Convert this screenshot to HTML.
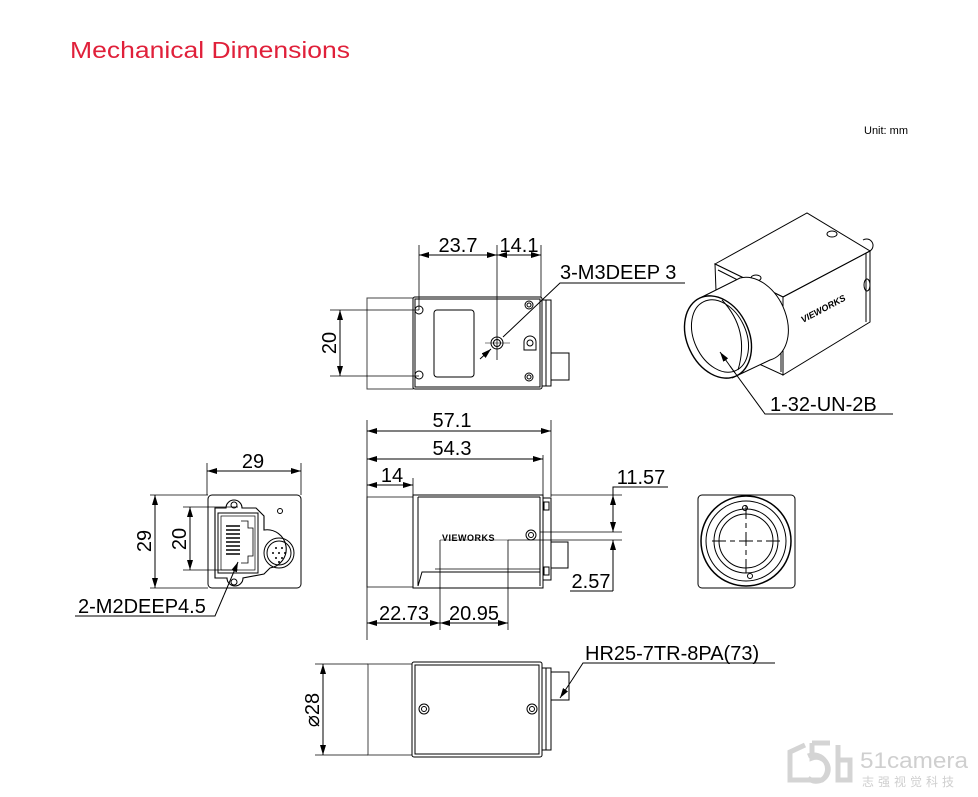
<!DOCTYPE html>
<html><head><meta charset="utf-8">
<style>
html,body{margin:0;padding:0;background:#fff;}
svg{display:block;}
text{font-family:"Liberation Sans","DejaVu Sans",sans-serif;fill:#000;}
</style></head>
<body>
<svg width="978" height="797" viewBox="0 0 978 797" xmlns="http://www.w3.org/2000/svg">
<defs>
<marker id="a" viewBox="0 0 10 6" refX="10" refY="3" markerWidth="10" markerHeight="6" orient="auto-start-reverse" markerUnits="userSpaceOnUse"><path d="M0,0 L10,3 L0,6 z" fill="#000"/></marker>
</defs>
<text x="70" y="58" font-size="23" style="fill:#e0203a" textLength="280" lengthAdjust="spacingAndGlyphs">Mechanical Dimensions</text>
<text x="864" y="134" font-size="11">Unit: mm</text>

<g fill="none" stroke="#000" stroke-width="1">
<!-- TOP VIEW -->
<rect x="367" y="298" width="46" height="91" stroke="#444"/>
<rect x="413" y="297" width="129" height="92" rx="2"/>
<rect x="415" y="299" width="125" height="88"/>
<rect x="542" y="300" width="9" height="86"/>
<line x1="546" y1="300" x2="546" y2="386"/>
<rect x="551" y="353" width="18" height="27"/>
<circle cx="419" cy="310" r="4"/><circle cx="419" cy="375" r="4"/>
<rect x="434" y="310" width="40" height="67" rx="3"/>
<circle cx="497" cy="343" r="6"/><circle cx="497" cy="343" r="3.5"/>
<line x1="485" y1="343" x2="510" y2="343" stroke-width="0.6"/>
<circle cx="529" cy="305" r="4"/><circle cx="529" cy="305" r="2"/>
<circle cx="529" cy="377" r="4"/><circle cx="529" cy="377" r="2"/>
<path d="M524,350 L524,342 A6,6 0 0 1 536,342 L536,350 Z"/><circle cx="530" cy="343" r="3"/>
<line x1="330" y1="310" x2="419" y2="310" stroke-width="0.8"/>
<line x1="330" y1="376" x2="419" y2="376" stroke-width="0.8"/>
<line x1="340" y1="310" x2="340" y2="376" marker-start="url(#a)" marker-end="url(#a)"/>
<line x1="419" y1="245" x2="419" y2="310" stroke-width="0.8"/>
<line x1="497" y1="245" x2="497" y2="360" stroke-width="0.8"/>
<line x1="541" y1="245" x2="541" y2="297" stroke-width="0.8"/>
<line x1="419" y1="255" x2="497" y2="255" marker-start="url(#a)" marker-end="url(#a)"/>
<line x1="497" y1="255" x2="541" y2="255" marker-start="url(#a)" marker-end="url(#a)"/>
<polyline points="685,283 560,283 503,337"/>
<line x1="491" y1="349" x2="480" y2="359" marker-start="url(#a)"/>

<!-- FRONT VIEW -->
<rect x="367" y="497" width="46" height="90" stroke="#444"/>
<rect x="413" y="495" width="130" height="93"/>
<line x1="418" y1="497" x2="418" y2="586"/>
<line x1="418" y1="497" x2="540" y2="497"/>
<polyline points="418,586 422,572 540,572"/>
<line x1="435" y1="569" x2="540" y2="569" stroke-width="0.7"/>
<line x1="540" y1="497" x2="540" y2="586"/>
<rect x="543" y="498" width="8" height="82"/>
<rect x="544" y="502" width="5" height="8"/><rect x="544" y="567" width="5" height="8"/>
<rect x="551" y="542" width="17" height="26"/>
<circle cx="531" cy="535" r="5"/><circle cx="531" cy="535" r="2.5"/>
<line x1="367" y1="420" x2="367" y2="640" stroke-width="0.8"/>
<line x1="551" y1="420" x2="551" y2="497" stroke-width="0.8"/>
<line x1="543" y1="455" x2="543" y2="497" stroke-width="0.8"/>
<line x1="413" y1="478" x2="413" y2="495" stroke-width="0.8"/>
<line x1="367" y1="431" x2="551" y2="431" marker-start="url(#a)" marker-end="url(#a)"/>
<line x1="367" y1="459" x2="543" y2="459" marker-start="url(#a)" marker-end="url(#a)"/>
<line x1="367" y1="485" x2="413" y2="485" marker-start="url(#a)" marker-end="url(#a)"/>
<line x1="551" y1="495" x2="622" y2="495" stroke-width="0.8"/>
<line x1="540" y1="532" x2="622" y2="532" stroke-width="0.8"/>
<line x1="508" y1="540" x2="622" y2="540" stroke-width="0.8"/>
<line x1="440" y1="540" x2="508" y2="540" stroke-width="0.6"/>
<line x1="613" y1="495" x2="613" y2="532" marker-start="url(#a)" marker-end="url(#a)"/>
<polyline points="668,487 613,487 613,495"/>
<line x1="613" y1="540" x2="613" y2="591" marker-start="url(#a)"/>
<line x1="570" y1="591" x2="613" y2="591"/>
<line x1="440" y1="540" x2="440" y2="630" stroke-width="0.8"/>
<line x1="508" y1="540" x2="508" y2="630" stroke-width="0.8"/>
<line x1="367" y1="623" x2="440" y2="623" marker-start="url(#a)" marker-end="url(#a)"/>
<line x1="440" y1="623" x2="508" y2="623" marker-start="url(#a)" marker-end="url(#a)"/>

<!-- BACK VIEW -->
<rect x="208" y="495" width="93" height="93" rx="4"/>
<path d="M215,508 L226,508 A8,8 0 0 1 242,508 L256,508 L264,516 L264,530 A18,18 0 0 1 270,568 L264,574 L243,578 A8,8 0 0 1 227,578 L215,578 Z" stroke-width="1.1"/>
<rect x="218" y="513" width="40" height="60"/>
<rect x="221" y="516" width="34" height="54" stroke-width="0.7"/>
<path d="M241,521 L248,521 L248,528 L253,528 L253,556 L248,556 L248,563 L241,563" stroke-width="0.8"/>
<g stroke-width="1.5"><line x1="226" y1="526" x2="240" y2="526"/><line x1="226" y1="530" x2="240" y2="530"/><line x1="226" y1="534" x2="240" y2="534"/><line x1="226" y1="538" x2="240" y2="538"/><line x1="226" y1="542" x2="240" y2="542"/><line x1="226" y1="546" x2="240" y2="546"/><line x1="226" y1="550" x2="240" y2="550"/><line x1="226" y1="554" x2="240" y2="554"/></g>
<circle cx="234" cy="505" r="3"/><circle cx="234" cy="582" r="3"/>
<circle cx="280" cy="511" r="2.5"/>
<circle cx="279" cy="553" r="15"/><circle cx="279" cy="553" r="12"/>
<g fill="#000" stroke="none"><circle cx="276" cy="548" r="1"/><circle cx="282" cy="548" r="1"/><circle cx="273" cy="553" r="1"/><circle cx="279" cy="553" r="1"/><circle cx="285" cy="553" r="1"/><circle cx="276" cy="558" r="1"/><circle cx="282" cy="558" r="1"/><circle cx="279" cy="562" r="1"/></g>
<line x1="207" y1="463" x2="207" y2="495" stroke-width="0.8"/>
<line x1="301" y1="463" x2="301" y2="495" stroke-width="0.8"/>
<line x1="207" y1="471" x2="301" y2="471" marker-start="url(#a)" marker-end="url(#a)"/>
<line x1="150" y1="495" x2="208" y2="495" stroke-width="0.8"/>
<line x1="150" y1="588" x2="208" y2="588" stroke-width="0.8"/>
<line x1="155" y1="495" x2="155" y2="588" marker-start="url(#a)" marker-end="url(#a)"/>
<line x1="183" y1="507" x2="238" y2="507" stroke-width="0.8"/>
<line x1="183" y1="570" x2="238" y2="570" stroke-width="0.8"/>
<line x1="190" y1="507" x2="190" y2="570" marker-start="url(#a)" marker-end="url(#a)"/>
<polyline points="75,616 215,616 224,595"/>
<line x1="224" y1="595" x2="238" y2="562" marker-end="url(#a)"/>

<!-- RIGHT FRONT VIEW -->
<rect x="698" y="495" width="97" height="93" rx="4"/>
<circle cx="746" cy="541" r="45" stroke-width="1.5"/>
<circle cx="746" cy="541" r="40"/>
<circle cx="746" cy="541" r="32"/>
<circle cx="746" cy="541" r="27"/>
<line x1="712" y1="541" x2="780" y2="541" stroke-dasharray="14,4,5,4"/>
<line x1="746" y1="505" x2="746" y2="577" stroke-dasharray="14,4,5,4"/>
<circle cx="745" cy="508" r="2.5"/><circle cx="750" cy="576" r="2.5"/>

<!-- ISO VIEW -->
<polygon points="715,264 807,213 870,251 783,297"/>
<polygon points="783,297 870,251 870,322 783,375"/>
<polygon points="715,264 783,297 783,375 718,345" fill="#fff"/>
<polyline points="718,270 781,302 781,372"/>
<line x1="866" y1="253" x2="866" y2="322"/>
<path d="M863,240 A6,6 0 0 1 870,251"/>
<ellipse cx="832" cy="234" rx="5" ry="3"/><ellipse cx="756" cy="278" rx="5" ry="3"/>
<ellipse cx="867" cy="285" rx="3" ry="6"/>
<path d="M702,297 L740,278 A30,43 -25 0 1 770,360 L732,378" fill="#fff"/>
<ellipse cx="718" cy="337" rx="31" ry="43" transform="rotate(-25 718 337)" fill="#fff" stroke-width="1.4"/>
<ellipse cx="720" cy="336" rx="26" ry="38" transform="rotate(-25 720 336)"/>
<path d="M722,300 Q750,330 738,370"/>
<polyline points="893,414 765,414 730,366"/>
<line x1="735" y1="373" x2="720" y2="352" marker-end="url(#a)"/>

<!-- BOTTOM VIEW -->
<rect x="368" y="664" width="44" height="91" stroke="#444"/>
<rect x="412" y="662" width="130" height="95" rx="2"/>
<rect x="415" y="665" width="124" height="89"/>
<rect x="542" y="668" width="9" height="82"/>
<line x1="546" y1="668" x2="546" y2="750"/>
<rect x="551" y="672" width="18" height="28"/>
<circle cx="424" cy="709" r="5"/><circle cx="424" cy="709" r="2.5"/>
<circle cx="532" cy="709" r="5"/><circle cx="532" cy="709" r="2.5"/>
<line x1="315" y1="664" x2="368" y2="664" stroke-width="0.8"/>
<line x1="315" y1="755" x2="368" y2="755" stroke-width="0.8"/>
<line x1="323" y1="664" x2="323" y2="755" marker-start="url(#a)" marker-end="url(#a)"/>
<polyline points="775,663 583,663 572,680"/>
<line x1="572" y1="680" x2="560" y2="698" marker-end="url(#a)"/>
</g>

<g font-size="20">
<text x="458" y="252" text-anchor="middle">23.7</text>
<text x="519" y="252" text-anchor="middle">14.1</text>
<text x="560" y="279">3-M3DEEP 3</text>
<text x="336" y="343" text-anchor="middle" transform="rotate(-90 336 343)">20</text>
<text x="452" y="427" text-anchor="middle">57.1</text>
<text x="452" y="455" text-anchor="middle">54.3</text>
<text x="392" y="482" text-anchor="middle">14</text>
<text x="641" y="484" text-anchor="middle">11.57</text>
<text x="591" y="588" text-anchor="middle">2.57</text>
<text x="404" y="620" text-anchor="middle">22.73</text>
<text x="474" y="620" text-anchor="middle">20.95</text>
<text x="253" y="468" text-anchor="middle">29</text>
<text x="151" y="541" text-anchor="middle" transform="rotate(-90 151 541)">29</text>
<text x="186" y="539" text-anchor="middle" transform="rotate(-90 186 539)">20</text>
<text x="78" y="613">2-M2DEEP4.5</text>
<text x="770" y="411">1-32-UN-2B</text>
<text x="585" y="660">HR25-7TR-8PA(73)</text>
<text x="319" y="710" text-anchor="middle" transform="rotate(-90 319 710)">⌀28</text>
</g>
<text x="442" y="541" font-size="9" font-weight="bold" letter-spacing="0.5">VIEWORKS</text>
<text x="803" y="323" font-size="9" font-weight="bold" font-style="italic" transform="rotate(-28 803 323)">VIEWORKS</text>

<g fill="none" stroke="#d4d4d4" stroke-width="5">
<path d="M805,745 L790,752 L790,780 L822,780 A14,14 0 0 0 808,756"/>
<path d="M812,743 L830,743 M812,743 L812,758 A12,12 0 1 1 808,778"/>
<path d="M838,745 L838,780 L850,780 L850,760 L838,760"/>
</g>
<text x="860" y="768" font-size="22" style="fill:#cfcfcf" textLength="108" lengthAdjust="spacingAndGlyphs">51camera</text>
<text x="862" y="786" font-size="12" style="fill:#cfcfcf;font-family:'Liberation Sans','Noto Sans CJK SC',sans-serif" letter-spacing="4">志强视觉科技</text>
</svg>
</body></html>
